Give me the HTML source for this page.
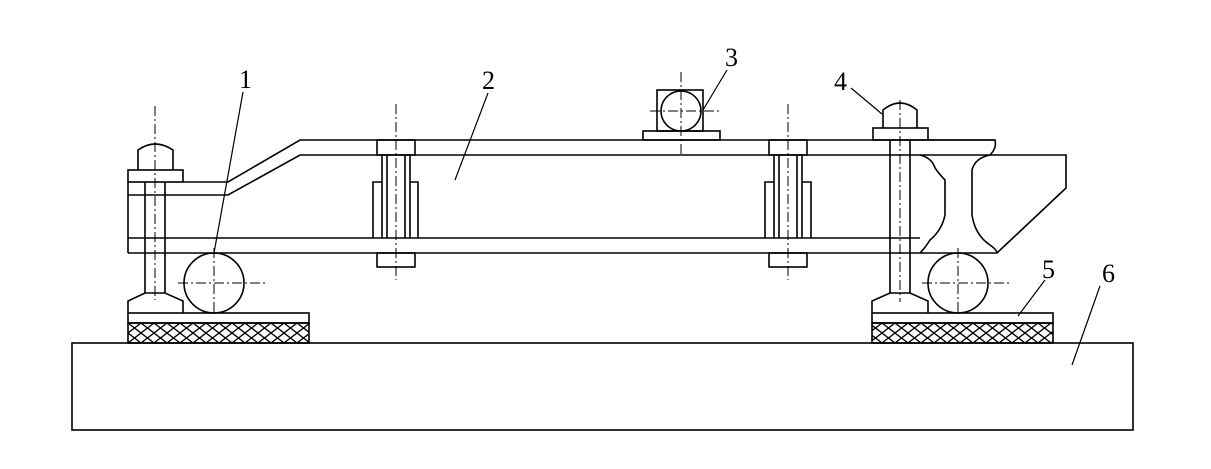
<!DOCTYPE html>
<html><head><style>html,body{margin:0;padding:0;background:#fff}svg{display:block}</style></head>
<body>
<svg width="1211" height="469" viewBox="0 0 1211 469" xmlns="http://www.w3.org/2000/svg">
<defs>
<pattern id="h" x="128" y="323" width="13" height="10" patternUnits="userSpaceOnUse">
<path d="M0,0L13,10M13,0L0,10" stroke="#000" stroke-width="1.3"/>
</pattern>
</defs>
<g fill="none" stroke="#000" stroke-width="1.6">
<rect x="72" y="343" width="1061" height="87"/>
<rect x="128" y="313" width="181" height="10"/>
<rect x="128" y="323" width="181" height="20" fill="url(#h)"/>
<rect x="872" y="313" width="181" height="10"/>
<rect x="872" y="323" width="181" height="20" fill="url(#h)"/>
<path d="M128,313V301L145,293H165L183,301V313"/>
<path d="M872,313V301L890,293H910L928,301V313"/>
<circle cx="214" cy="283" r="30"/>
<circle cx="958" cy="283" r="30"/>
<rect x="128" y="170" width="55" height="12"/>
<path d="M128,182V253"/>
<path d="M183,182H228L300,140H995"/>
<path d="M128,195H228L300,155H920"/>
<path d="M128,238H920M128,253H920"/>
<path d="M138,170V150Q155,138 173,150V170"/>
<path d="M145,182V293M165,182V293"/>
<rect x="377" y="140" width="38" height="15"/>
<rect x="377" y="253" width="38" height="14"/>
<path d="M382,155V238M387,155V238M405,155V238M410,155V238"/>
<path d="M373,238V182H382M418,238V182H410"/>
<rect x="769" y="140" width="38" height="15"/>
<rect x="769" y="253" width="38" height="14"/>
<path d="M774,155V238M779,155V238M797,155V238M802,155V238"/>
<path d="M765,238V182H774M811,238V182H802"/>
<path d="M883,128V110Q900,96 917,110V128"/>
<rect x="873" y="128" width="55" height="12"/>
<path d="M890,140V293M910,140V293"/>
<path d="M928,140H995Q997,148 990,155"/>
<path d="M920,155Q932,158 935,168Q940,175 945,180V215Q942,230 930,240Q925,248 920,253"/>
<path d="M990,155Q975,158 972,170V215Q975,235 990,245Q997,250 997,253"/>
<path d="M920,155H1066V188L997,253H920"/>
<rect x="643" y="131" width="77" height="9"/>
<rect x="657" y="90" width="46" height="41"/>
<circle cx="681" cy="111" r="20"/>
</g>
<g fill="none" stroke="#000" stroke-width="1" stroke-dasharray="10,3,2,3">
<path d="M155,106V300"/>
<path d="M396,104V280"/>
<path d="M788,104V280"/>
<path d="M900,100V302"/>
<path d="M681,72V156M650,111H720"/>
<path d="M214,248V313M178,283H266"/>
<path d="M958,248V313M922,283H1010"/>
</g>
<g stroke="#000" stroke-width="1.2">
<line x1="243" y1="92" x2="214" y2="253"/>
<line x1="488" y1="93" x2="455" y2="180"/>
<line x1="727" y1="70" x2="703" y2="110"/>
<line x1="851" y1="88" x2="882" y2="114"/>
<line x1="1045" y1="280" x2="1018" y2="316"/>
<line x1="1100" y1="286" x2="1072" y2="365"/>
</g>
<g font-family="Liberation Serif, serif" font-size="26" fill="#000">
<text x="239" y="88">1</text>
<text x="482" y="89">2</text>
<text x="725" y="66">3</text>
<text x="834" y="90">4</text>
<text x="1042" y="278">5</text>
<text x="1102" y="282">6</text>
</g>
</svg>
</body></html>
